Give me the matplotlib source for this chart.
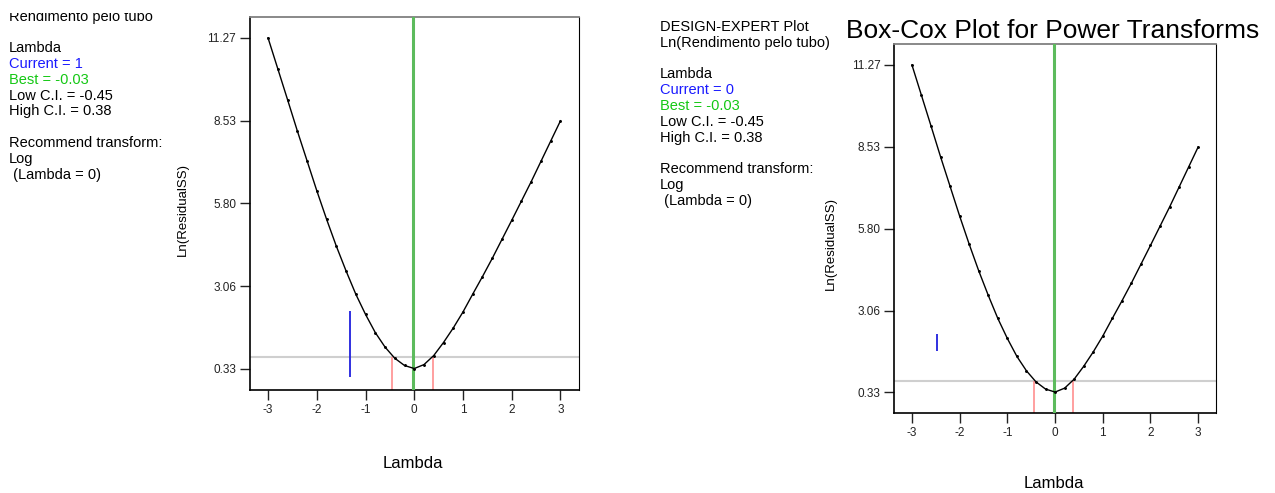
import matplotlib
matplotlib.use('Agg')
import matplotlib.pyplot as plt
from matplotlib.transforms import Bbox

plt.rcParams['font.family'] = ['Liberation Sans', 'DejaVu Sans']

# Box-Cox data
lambdas = [-3.0, -2.8, -2.6, -2.4, -2.2, -2.0, -1.8, -1.6, -1.4, -1.2, -1.0,
           -0.8, -0.6, -0.4, -0.2, 0.0, 0.2, 0.4, 0.6, 0.8, 1.0,
           1.2, 1.4, 1.6, 1.8, 2.0, 2.2, 2.4, 2.6, 2.8, 3.0]
ln_ss = [11.27, 10.25, 9.23, 8.20, 7.21, 6.22, 5.28, 4.39, 3.57, 2.80, 2.13,
         1.53, 1.05, 0.68, 0.44, 0.34, 0.47, 0.77, 1.20, 1.68, 2.21,
         2.80, 3.38, 3.98, 4.61, 5.24, 5.88, 6.52, 7.19, 7.86, 8.53]

y_ticks = [0.33, 3.06, 5.80, 8.53, 11.27]
x_ticks = [-3, -2, -1, 0, 1, 2, 3]

best = -0.03
low_ci = -0.45
high_ci = 0.38
ci_level = 0.71

# "current" marker segments (x, y0, y1) for each panel
current_left = (-1.32, 0.06, 2.24)
current_right = (-2.48, 1.71, 2.29)

info_left = ["Rendimento pelo tubo", "", "Lambda", "Current = 1", "Best = -0.03",
             "Low C.I. = -0.45", "High C.I. = 0.38", "",
             "Recommend transform:", "Log", " (Lambda = 0)"]
info_right = ["DESIGN-EXPERT Plot", "Ln(Rendimento pelo tubo)", "", "Lambda",
              "Current = 0", "Best = -0.03", "Low C.I. = -0.45",
              "High C.I. = 0.38", "", "Recommend transform:", "Log",
              " (Lambda = 0)"]

W, H = 1275, 493
fig = plt.figure(figsize=(W / 100, H / 100), dpi=100)


def fx(px):
    return px / W


def fy(py):
    return 1 - py / H


def draw_panel(ax, current):
    ax.plot(lambdas, ln_ss, color='black', lw=1.0, marker='o', ms=1.1,
            zorder=4)
    ax.axvline(best, color='#5dbb5d', lw=2.2, zorder=3)
    ax.axhline(ci_level, color='#cfcfcf', lw=1.5, zorder=2)
    ax.vlines([low_ci, high_ci], -0.5, ci_level, color='#ff8f8f', lw=1.2,
              zorder=2)
    ax.vlines(current[0], current[1], current[2], color='#2020dd', lw=1.3)
    ax.set_xlim(-3.37, 3.38)
    ax.set_ylim(-0.37, 11.96)
    ax.set_xticks(x_ticks)
    ax.set_xticklabels([str(v) for v in x_ticks])
    ax.set_yticks(y_ticks)
    ax.set_yticklabels(['%.2f' % v for v in y_ticks])
    ax.tick_params(direction='out', length=7, width=1, labelsize=8.5, pad=3,
                   colors='#222222')
    ax.spines['top'].set_color('#808080')
    ax.spines['top'].set_linewidth(1.3)
    ax.spines['right'].set_color('black')
    for s in ['left', 'bottom']:
        ax.spines[s].set_color('black')
        ax.spines[s].set_linewidth(1.2)


# left panel
ax1 = fig.add_axes([fx(250), fy(390), fx(579 - 250), (390 - 17) / H])
draw_panel(ax1, current_left)
fig.text(fx(413), fy(463), 'Lambda', fontsize=12, ha='center', va='center')
fig.text(fx(182.5), fy(210), 'Ln(ResidualSS)', fontsize=9.5, rotation=90,
         ha='center', va='center')

# right panel
ax2 = fig.add_axes([fx(894.3), fy(413.3), fx(1216.3 - 894.3), (413.3 - 44.3) / H])
draw_panel(ax2, current_right)
fig.text(fx(1054), fy(483), 'Lambda', fontsize=12, ha='center', va='center')
fig.text(fx(831), fy(244), 'Ln(ResidualSS)', fontsize=9.5, rotation=90,
         ha='center', va='center')
fig.text(fx(1053), fy(31), 'Box-Cox Plot for Power Transforms', fontsize=19,
         ha='center', va='center')


def info_block(lines, x0, y0):
    colors = {'Current': '#1a1aff', 'Best': '#14c814'}
    y = y0
    texts = []
    for line in lines:
        if line:
            c = 'black'
            for k, v in colors.items():
                if line.startswith(k):
                    c = v
            texts.append(fig.text(fx(x0), fy(y), line, fontsize=10.5,
                                  color=c, ha='left', va='center'))
        y += 15.8
    return texts


left_texts = info_block(info_left, 9, 16.6)
# the first line of the left block is cut off at the top in the original
left_texts[0].set_clip_box(Bbox([[0, 0], [W, H - 13]]))
left_texts[0].set_clip_on(True)

info_block(info_right, 660, 27)

plt.savefig('out.png', dpi=100)
